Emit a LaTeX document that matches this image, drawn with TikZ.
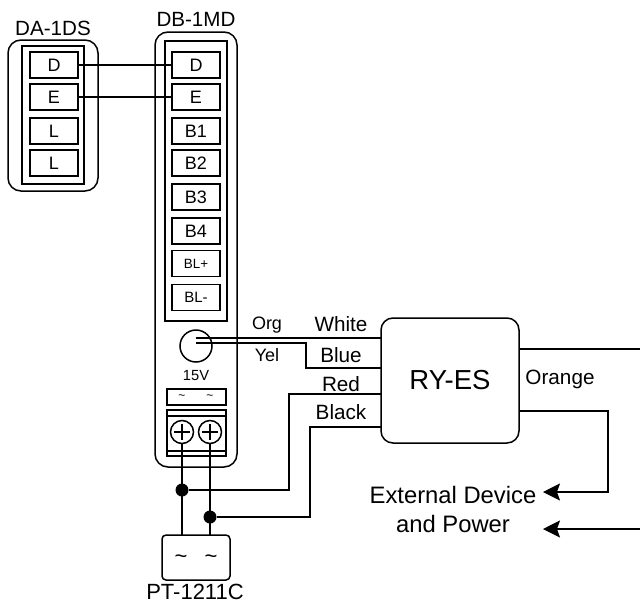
\documentclass[tikz,border=0pt]{standalone}
\usepackage{fontspec}
\setmainfont{Liberation Sans}
\usetikzlibrary{arrows.meta}
\newcommand{\fs}[1]{\fontsize{#1}{#1}\selectfont}
\tikzset{
  every path/.style={line width=1.5pt},
  term/.style={draw,line width=1.5pt,rectangle,minimum width=48pt,minimum height=26pt,inner sep=0pt,font=\fs{18}},
  lab/.style={inner sep=0pt,font=\fs{18}},
  biglab/.style={inner sep=0pt,font=\fs{20.6}},
  wire/.style={line width=1.5pt},
  dot/.style={circle,fill=black,inner sep=0pt,minimum size=13pt},
  tip/.style={-{Stealth[length=17pt,width=17pt,inset=3pt]}}
}
\begin{document}
\begin{tikzpicture}[x=1pt,y=-1pt]
\useasboundingbox (0,0) rectangle (640,603);
% DA-1DS
\draw[rounded corners=13pt] (8,40) rectangle (98,191);
\draw (22,46) rectangle (84,184);
\node[biglab] (lda) at (53,28) {DA-1DS};
\node[term] (a1) at (54,65) {D};
\node[term] (a2) at (54,97) {E};
\node[term] (a3) at (54,131) {L};
\node[term] (a4) at (54,163) {L};
% DB-1MD
\draw[rounded corners=13pt] (155,32) rectangle (237,467);
\draw (165,41) rectangle (227,321);
\node[biglab] (ldb) at (196,19) {DB-1MD};
\node[term] (b1) at (196,65) {D};
\node[term] (b2) at (196,97) {E};
\node[term] (b3) at (196,131) {B1};
\node[term] (b4) at (196,163) {B2};
\node[term] (b5) at (196,197) {B3};
\node[term] (b6) at (196,231) {B4};
\node[term,font=\fs{13.4}] (b7) at (196,263.5) {BL+};
\node[term,font=\fs{15}] (b8) at (196,297.5) {BL-};
\draw[wire] (a1.east) -- (b1.west);
\draw[wire] (a2.east) -- (b2.west);
% pot
\node[draw,circle,minimum size=32pt,inner sep=0pt,line width=1.5pt] (pot) at (196,346) {};
\coordinate (org) at (196,338);
\coordinate (yel) at (196,343);
\node[lab,font=\fs{14.7}] (v15) at (196,375.5) {15V};
\node[draw,line width=1.5pt,minimum width=59pt,minimum height=16pt,inner sep=0pt] (tilde) at (196.5,397) {};
\node[inner sep=0pt,font=\fs{12}] (t1) at (182,397) {\char`\~};
\node[inner sep=0pt,font=\fs{12}] (t2) at (210,397) {\char`\~};
\draw (167,410) rectangle (226,456);
\draw (167,416) -- (226,416);
\draw (167,451) -- (226,451);
\foreach \n/\x in {s1/182,s2/210}{
  \node[draw,circle,minimum size=23pt,inner sep=0pt,line width=1.5pt] (\n) at (\x,432) {};
  \draw[line width=2.2pt] (\x-8,432) -- (\x+8,432) (\x,424) -- (\x,440);
}
% PT
\node[draw,line width=1.5pt,rounded corners=4pt,minimum width=68pt,minimum height=45pt,inner sep=0pt] (pt) at (196,557.5) {};
\node[inner sep=0pt,font=\fs{22}] (p1) at (181,559) {\char`\~};
\node[inner sep=0pt,font=\fs{22}] (p2) at (211,559) {\char`\~};
\node[lab,font=\fs{22}] (lpt) at (195,592) {PT-1211C};
\coordinate (pa) at (182,535);
\coordinate (pb) at (210,535);
\node[dot] (d1) at (182,490) {};
\node[dot] (d2) at (210,517) {};
\draw[wire] (s1.south) -- (pa);
\draw[wire] (s2.south) -- (pb);
% RY-ES
\node[draw,line width=1.5pt,rounded corners=12pt,minimum width=138pt,minimum height=125pt,inner sep=0pt,font=\fs{27.5}] (ry) at (450,380.5) {RY-ES};
\coordinate (r1) at (381,338);
\coordinate (r2) at (381,368);
\coordinate (r3) at (381,394);
\coordinate (r4) at (381,427);
\draw[wire] (org) -- (r1);
\draw[wire] (yel) -- (306,343) -- (306,368) -- (r2);
\draw[wire] (d1) -- (289,490) -- (289,394) -- (r3);
\draw[wire] (d2) -- (310,517) -- (310,427) -- (r4);
% right side
\coordinate (e1) at (519,349);
\coordinate (e2) at (640,349);
\coordinate (e3) at (519,411);
\coordinate (a5) at (543,492);
\coordinate (e4) at (640,529);
\coordinate (a6) at (543,529);
\draw[wire] (e1) -- (e2);
\draw[wire,tip] (e3) -- (608,411) -- (608,492) -- (a5);
\draw[wire,tip] (e4) -- (a6);
\node[lab,font=\fs{20.7}] (lorange) at (560,379) {Orange};
\node[lab,font=\fs{23.8}] (lext) at (453,495) {External Device};
\node[lab,font=\fs{23.8}] (lpow) at (453,524) {and Power};
% wire labels
\node[lab] (lorg) at (267,325) {Org};
\node[lab] (lyel) at (267,355) {Yel};
\node[lab,font=\fs{20.7}] (lw) at (341,324) {White};
\node[lab,font=\fs{20.7}] (lb) at (341,355) {Blue};
\node[lab,font=\fs{20.7}] (lr) at (341,384) {Red};
\node[lab,font=\fs{20.7}] (lk) at (341,412) {Black};
\end{tikzpicture}
\end{document}
